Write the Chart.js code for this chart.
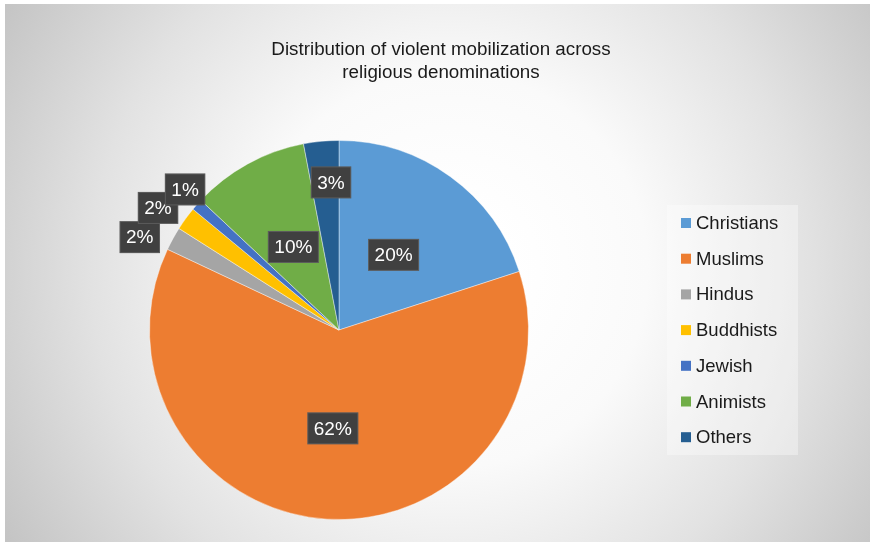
<!DOCTYPE html>
<html lang="en">
<head>
    <meta charset="UTF-8">
    <title>Distribution of violent mobilization across religious denominations</title>
    <script src="https://cdn.jsdelivr.net/npm/chart.js"></script>
    <style>
        body {
            margin: 0;
            padding: 0;
            background: #ffffff;
            overflow: hidden;
        }
        #chart-container {
            width: 870px;
            height: 542px;
        }
    </style>
</head>
<body>
    <div id="chart-container">
        <canvas id="religionChart" width="870" height="542"></canvas>
    </div>
    <script>
        const titleLines = ['Distribution of violent mobilization across', 'religious denominations'];
        const categories = ['Christians', 'Muslims', 'Hindus', 'Buddhists', 'Jewish', 'Animists', 'Others'];
        const shares = [20, 62, 2, 2, 1, 10, 3];
        const colors = ['#5b9bd5', '#ed7d31', '#a5a5a5', '#ffc000', '#4472c4', '#70ad47', '#255e91'];

        // where each percentage box sits: fraction of radius, angle nudge in degrees
        const labelRadius = [0.49, 0.52, 1.16, 1.152, 1.10, 0.50, 0.78];
        const labelNudge = [0, 0, -3.8, -2, 1, 0, 2.3];

        const FONT = '"Liberation Sans", Arial, Helvetica, sans-serif';

        // grey radial backdrop behind the chart
        const backdrop = {
            id: 'backdrop',
            beforeDraw(chart) {
                const ctx = chart.ctx;
                ctx.save();
                ctx.fillStyle = '#ffffff';
                ctx.fillRect(0, 0, chart.width, chart.height);
                const g = ctx.createRadialGradient(450, 270, 60, 450, 270, 520);
                g.addColorStop(0, '#ffffff');
                g.addColorStop(0.3, '#fafafa');
                g.addColorStop(0.65, '#e2e2e2');
                g.addColorStop(1, '#c4c4c4');
                ctx.fillStyle = g;
                ctx.fillRect(5, 4, chart.width - 5, chart.height - 4);
                ctx.restore();
            }
        };

        // title text and side legend
        const decorations = {
            id: 'decorations',
            afterDraw(chart) {
                const ctx = chart.ctx;
                ctx.save();
                ctx.fillStyle = '#1a1a1a';
                ctx.font = '18.8px ' + FONT;
                ctx.textAlign = 'center';
                ctx.textBaseline = 'middle';
                titleLines.forEach((line, i) => ctx.fillText(line, 441, 50 + i * 23));

                ctx.fillStyle = 'rgba(255,255,255,0.35)';
                ctx.fillRect(667, 205, 131, 250);
                ctx.font = '18.5px ' + FONT;
                ctx.textAlign = 'left';
                categories.forEach((name, i) => {
                    const y = 223 + i * 35.7;
                    ctx.fillStyle = colors[i];
                    ctx.fillRect(681, y - 5, 10, 10);
                    ctx.fillStyle = '#1a1a1a';
                    ctx.fillText(name, 696, y + 1);
                });
                ctx.restore();
            }
        };

        // dark boxes with the percentage of each slice
        const sliceLabels = {
            id: 'sliceLabels',
            afterDatasetsDraw(chart) {
                const ctx = chart.ctx;
                const arcs = chart.getDatasetMeta(0).data;
                ctx.save();
                ctx.font = '19px ' + FONT;
                ctx.textAlign = 'center';
                ctx.textBaseline = 'middle';
                arcs.forEach((arc, i) => {
                    const mid = (arc.startAngle + arc.endAngle) / 2 + labelNudge[i] * Math.PI / 180;
                    const r = arc.outerRadius * labelRadius[i];
                    const cx = arc.x + Math.cos(mid) * r;
                    const cy = arc.y + Math.sin(mid) * r;
                    const text = shares[i] + '%';
                    const w = ctx.measureText(text).width + 13;
                    const h = 32;
                    ctx.fillStyle = '#404040';
                    ctx.fillRect(cx - w / 2, cy - h / 2, w, h);
                    ctx.strokeStyle = 'rgba(255,255,255,0.15)';
                    ctx.lineWidth = 1;
                    ctx.strokeRect(cx - w / 2 + 0.5, cy - h / 2 + 0.5, w - 1, h - 1);
                    ctx.fillStyle = '#ffffff';
                    ctx.fillText(text, cx, cy + 1);
                });
                ctx.restore();
            }
        };

        const ctx = document.getElementById('religionChart').getContext('2d');
        new Chart(ctx, {
            type: 'pie',
            data: {
                labels: categories,
                datasets: [{
                    data: shares,
                    backgroundColor: colors,
                    borderColor: 'rgba(255,255,255,0.4)',
                    borderWidth: 1
                }]
            },
            options: {
                responsive: false,
                animation: false,
                layout: {
                    padding: { top: 140, bottom: 22, left: 149, right: 341 }
                },
                plugins: {
                    legend: { display: false },
                    title: { display: false },
                    tooltip: { enabled: false }
                }
            },
            plugins: [backdrop, sliceLabels, decorations]
        });
    </script>
</body>
</html>
